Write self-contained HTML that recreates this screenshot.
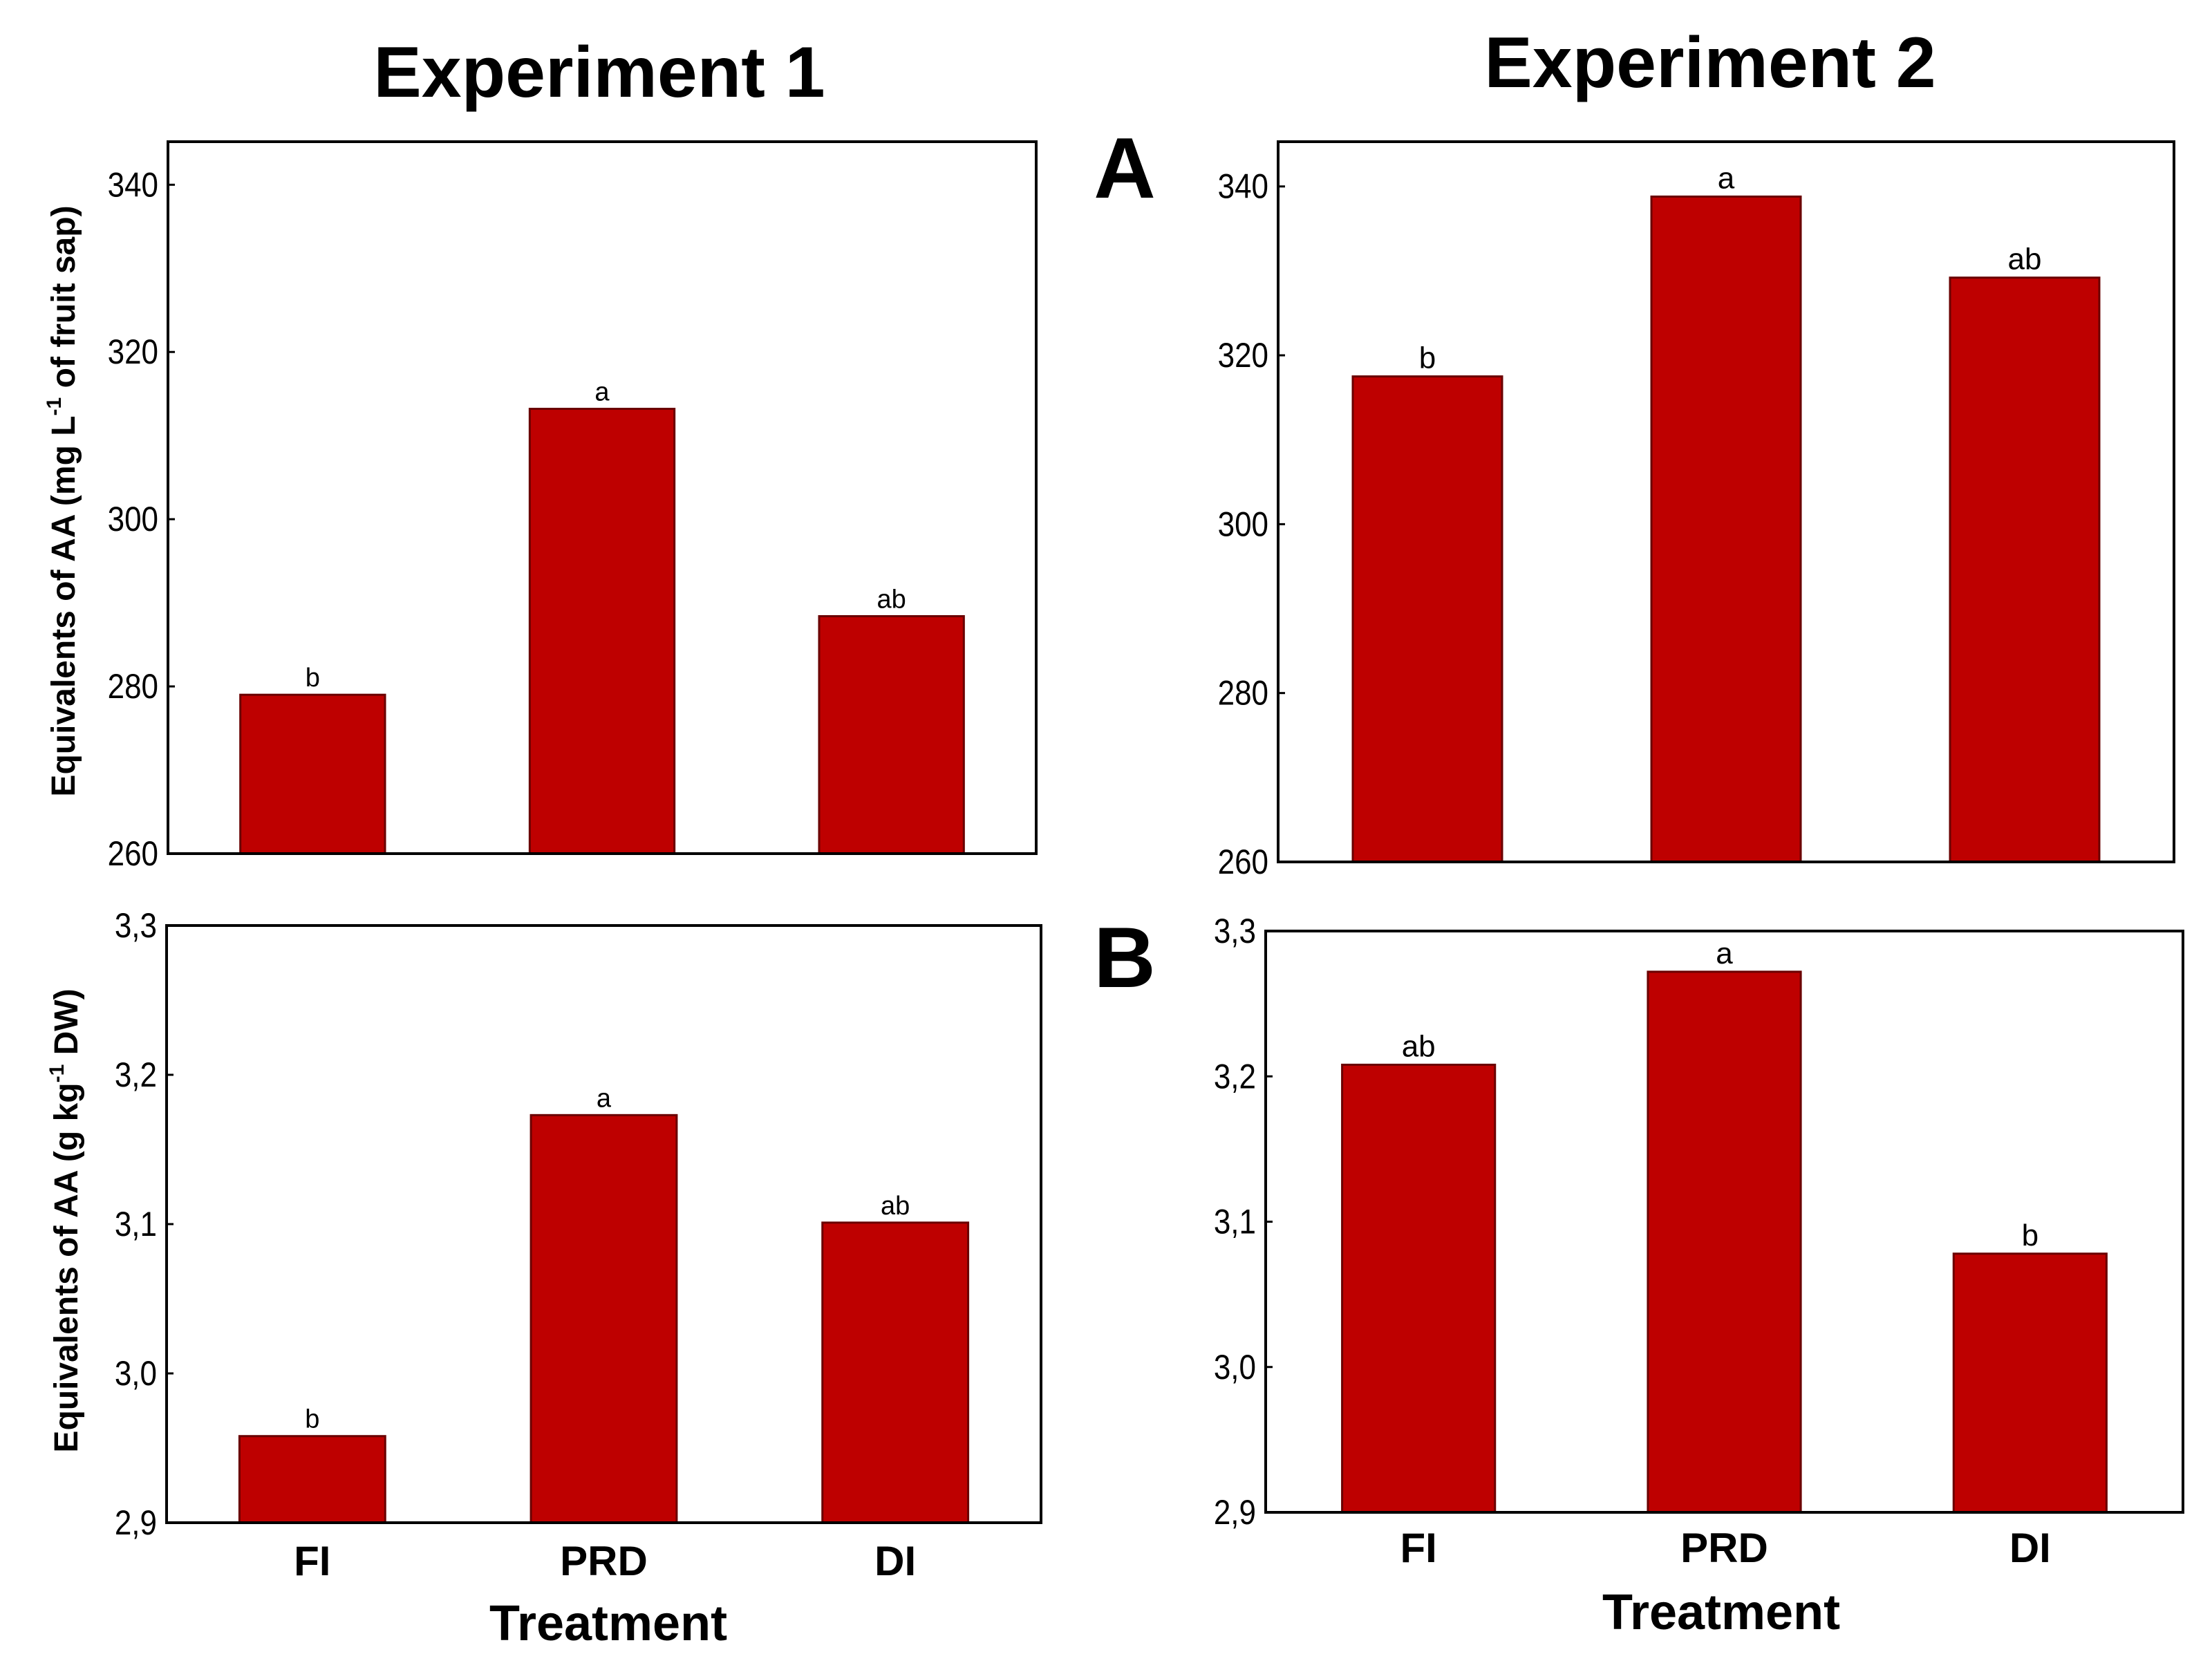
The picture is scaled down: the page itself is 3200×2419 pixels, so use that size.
<!DOCTYPE html>
<html><head><meta charset="utf-8"><style>
html,body{margin:0;padding:0;background:#fff;}
svg{display:block;font-family:"Liberation Sans",sans-serif;}
</style></head><body>
<svg id="chart" width="3200" height="2419" viewBox="0 0 3200 2419">
<text x="867" y="140" font-size="104" font-weight="bold" text-anchor="middle">Experiment 1</text>
<text x="2474" y="126" font-size="104" font-weight="bold" text-anchor="middle">Experiment 2</text>
<text x="1627" y="286" font-size="124" font-weight="bold" text-anchor="middle">A</text>
<text x="1627" y="1428" font-size="124" font-weight="bold" text-anchor="middle">B</text>
<text transform="translate(108,725) rotate(-90)" font-size="48" font-weight="bold" text-anchor="middle">Equivalents of AA (mg L<tspan dy="-20" font-size="30">-1</tspan><tspan dy="20"> of fruit sap)</tspan></text>
<text transform="translate(112,1766) rotate(-90)" font-size="48" font-weight="bold" text-anchor="middle">Equivalents of AA (g kg<tspan dy="-20" font-size="30">-1</tspan><tspan dy="20"> DW)</tspan></text>
<text x="880" y="2373" font-size="72" font-weight="bold" text-anchor="middle">Treatment</text>
<text x="2490" y="2357" font-size="72" font-weight="bold" text-anchor="middle">Treatment</text>
</svg>
<script>
const categories = ["FI", "PRD", "DI"];
const valuesA1 = [279.0, 313.2, 288.4];
const valuesA2 = [317.5, 338.8, 329.2];
const valuesB1 = [2.958, 3.173, 3.101];
const valuesB2 = [3.208, 3.272, 3.078];
const lettersA1 = ["b", "a", "ab"];
const lettersA2 = ["b", "a", "ab"];
const lettersB1 = ["b", "a", "ab"];
const lettersB2 = ["ab", "a", "b"];
const ticksA = [260, 280, 300, 320, 340];
const ticksB = [2.9, 3.0, 3.1, 3.2, 3.3];

const NS = "http://www.w3.org/2000/svg";
const svg = document.getElementById("chart");
function mk(tag, attrs, parent) {
  const e = document.createElementNS(NS, tag);
  for (const k in attrs) e.setAttribute(k, attrs[k]);
  (parent || svg).appendChild(e);
  return e;
}
function panel(id, box, yMin, yMax, ticks, vals, letters, fmt, showCats, catY, letterSize) {
  const g = mk("g", {});
  
  
  const y = v => box.b - (v - yMin) / (yMax - yMin) * (box.b - box.t);
  const band = (box.r - box.l) / categories.length;
  const bw = band * 0.5;
  vals.forEach((v, i) => {
    const cx = box.l + band * (i + 0.5);
    const r = mk("rect", {x: cx - bw / 2, y: y(v), width: bw, height: box.b - y(v), fill: "#BE0000", stroke: "#6a0000", "stroke-width": 3}, g);
    
    
    const t = mk("text", {x: cx, y: y(v) - 12, "font-size": letterSize, "text-anchor": "middle"}, g);
    t.textContent = letters[i];
    
    
    if (showCats) {
      const c = mk("text", {x: cx, y: catY, "font-size": 60, "font-weight": "bold", "text-anchor": "middle"}, g);
      c.textContent = categories[i];
      
      
    }
  });
  ticks.forEach(tv => {
    const ty = y(tv);
    mk("line", {x1: box.l, x2: box.l + 10, y1: ty, y2: ty, stroke: "#000", "stroke-width": 3}, g);
    const t = mk("text", {x: 0, y: 0, "font-size": 50, "text-anchor": "end", transform: "translate(" + (box.l - 14) + "," + (ty + 17) + ") scale(0.88,1)"}, g);
    t.textContent = fmt(tv);
    
    
  });
  const f = mk("rect", {x: box.l, y: box.t, width: box.r - box.l, height: box.b - box.t, fill: "none", stroke: "#000", "stroke-width": 4}, g);
  
  
}
const fA = v => String(v);
const fB = v => v.toFixed(1).replace(".", ",");
panel("panel-a-exp1", {l: 243, r: 1499, t: 205, b: 1235}, 260, 345.15, ticksA, valuesA1, lettersA1, fA, false, 0, 38);
panel("panel-a-exp2", {l: 1849, r: 3145, t: 205, b: 1247}, 260, 345.3, ticksA, valuesA2, lettersA2, fA, false, 0, 44);
panel("panel-b-exp1", {l: 241, r: 1506, t: 1339, b: 2203}, 2.9, 3.3, ticksB, valuesB1, lettersB1, fB, true, 2279, 38);
panel("panel-b-exp2", {l: 1831, r: 3158, t: 1347, b: 2188}, 2.9, 3.3, ticksB, valuesB2, lettersB2, fB, true, 2260, 44);
</script>
</body></html>
